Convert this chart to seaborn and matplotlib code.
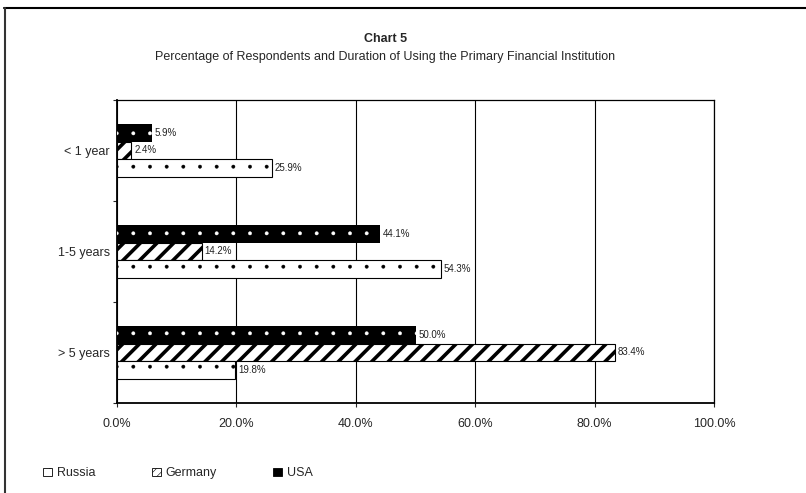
import matplotlib
matplotlib.use("Agg")
import matplotlib.pyplot as plt
import matplotlib.lines as mlines
import matplotlib.patches as mpatches
from matplotlib.ticker import FuncFormatter, FixedLocator
import pandas as pd
import seaborn as sns

# data
durations = ["< 1 year", "1-5 years", "> 5 years"]
countries = ["USA", "Germany", "Russia"]
usa = [5.9, 44.1, 50.0]
germany = [2.4, 14.2, 83.4]
russia = [25.9, 54.3, 19.8]
x_ticks = [0, 20, 40, 60, 80, 100]

df = pd.DataFrame({
    "duration": durations * 3,
    "country": ["USA"] * 3 + ["Germany"] * 3 + ["Russia"] * 3,
    "value": usa + germany + russia,
})

sns.set_style("white")
plt.rcParams["font.family"] = ["Liberation Sans", "DejaVu Sans"]
plt.rcParams["hatch.linewidth"] = 0.4

fig = plt.figure(figsize=(8.06, 4.93), dpi=100)
ax = fig.add_axes([0.1452, 0.1826, 0.7407, 0.6146])

sns.barplot(data=df, x="value", y="duration", hue="country",
            order=durations, hue_order=countries, orient="h",
            width=0.525, legend=False, ax=ax, saturation=1)

styles = {
    "USA": dict(facecolor="black", edgecolor="white", hatch=".", lw=0),
    "Germany": dict(facecolor="white", edgecolor="black", hatch="//", lw=0.8),
    "Russia": dict(facecolor="white", edgecolor="black", hatch=".", lw=0.8),
}
hatch_lw = {"USA": 0.3, "Germany": 2.6, "Russia": 0.3}

for container, name in zip(ax.containers, countries):
    st = styles[name]
    for bar in container:
        bar.set_facecolor(st["facecolor"])
        bar.set_edgecolor(st["edgecolor"])
        bar.set_hatch(st["hatch"])
        bar.set_linewidth(st["lw"])
        if hasattr(bar, "set_hatch_linewidth"):
            bar.set_hatch_linewidth(hatch_lw[name])
        bar.set_zorder(3)
    ax.bar_label(container, labels=[f"{v:.1f}%" for v in container.datavalues],
                 padding=2, fontsize=7, color="#222222")

ax.set_xlim(0, 100)
ax.xaxis.set_major_locator(FixedLocator(x_ticks))
ax.xaxis.set_major_formatter(FuncFormatter(lambda v, p: f"{v:.1f}%"))
ax.grid(axis="x", color="black", lw=0.8, zorder=0)
ax.set_axisbelow(True)
ax.set_xlabel("")
ax.set_ylabel("")
ax.tick_params(axis="x", labelsize=9, length=3, width=0.8, direction="out",
               bottom=True, pad=8)
ax.tick_params(axis="y", labelsize=9, length=0, pad=5)
ax.set_yticks([-0.5, 0.5, 1.5, 2.5], minor=True)
ax.tick_params(axis="y", which="minor", length=3, width=0.8, left=True)
for sp in ax.spines.values():
    sp.set_color("black")
    sp.set_linewidth(0.9)
ax.spines["left"].set_linewidth(1.3)
ax.spines["bottom"].set_linewidth(1.3)

fig.text(0.478, 0.92, "Chart 5", ha="center", va="center",
         fontsize=9, fontweight="bold")
fig.text(0.478, 0.885,
         "Percentage of Respondents and Duration of Using the Primary Financial Institution",
         ha="center", va="center", fontsize=9)

handles = [
    mpatches.Patch(facecolor="white", edgecolor="black", hatch=".", lw=0.6, label="Russia"),
    mpatches.Patch(facecolor="white", edgecolor="black", hatch="////", lw=0.6, label="Germany"),
    mpatches.Patch(facecolor="black", edgecolor="black", lw=0.6, label="USA"),
]
fig.legend(handles=handles, loc="center left", bbox_to_anchor=(0.04, 0.04),
           ncol=3, frameon=False, fontsize=9, handlelength=0.7,
           handleheight=0.7, handletextpad=0.4, columnspacing=4.5)

# page frame lines
fig.add_artist(mlines.Line2D([0.005, 1.0], [0.984, 0.984], color="black", lw=1.5,
                             transform=fig.transFigure))
fig.add_artist(mlines.Line2D([0.006, 0.006], [0.0, 0.984], color="#333333", lw=1.5,
                             transform=fig.transFigure))

fig.savefig("out.png", dpi=100)
